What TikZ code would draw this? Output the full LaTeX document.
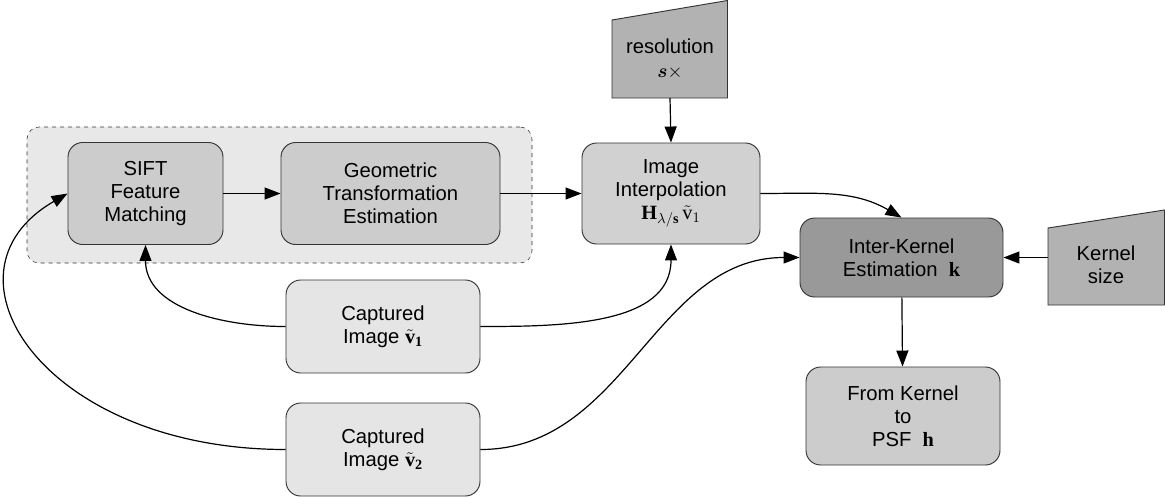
\documentclass[tikz,border=0pt]{standalone}
\usepackage{amsmath}
\usepackage{fontspec}
\setmainfont{Liberation Sans}
\setmathrm{Liberation Serif}
\usetikzlibrary{arrows.meta}

\begin{document}
\begin{tikzpicture}[x=0.75pt, y=0.75pt,
    box/.style={rectangle, draw=black!80, line width=0.7pt, rounded corners=11pt,
        align=center, inner sep=2pt, font=\fontsize{15.2}{17.25}\selectfont},
    inp/.style={align=center, inner sep=2pt, font=\fontsize{15.2}{17.25}\selectfont},
    slant/.style={draw=black!80, fill=black!30, line width=0.7pt},
    arr/.style={-{Triangle[length=12pt, width=9pt]}, line width=0.9pt}
]
\useasboundingbox (0,0) rectangle (1165,-497);

% dashed group around matching and estimation
\node[rectangle, draw=black!80, dashed, fill=black!9, rounded corners=9pt,
    minimum width=378.75pt, minimum height=102pt] (grp) at (279.5,-195) {};

% manual inputs
\draw[slant] (612,-98) -- (727.5,-98) -- (727.5,-0.5) -- (612,-20) -- cycle;
\draw[slant] (1048,-305) -- (1164.5,-305) -- (1164.5,-210) -- (1048,-228) -- cycle;
\coordinate (res-out) at (670,-98);
\coordinate (ks-out) at (1048,-257.5);

\node[inp] (res) at (670,-59) {resolution\\[1pt]$\boldsymbol{s}\times$};
\node[inp] (ksize) at (1106,-265) {Kernel\\size};

\node[box, fill=black!20, minimum width=116.25pt, minimum height=76.5pt] (sift) at (145.5,-193.5) {SIFT\\Feature\\Matching};
\node[box, fill=black!20, minimum width=164.25pt, minimum height=76.5pt] (geom) at (390.5,-193.5) {Geometric\\Transformation\\Estimation};
\node[box, fill=black!18, minimum width=133.5pt, minimum height=75.75pt] (interp) at (671,-193.5) {Image\\Interpolation\\$\mathbf{H}_{\lambda/\mathbf{s}}\,\tilde{\mathrm{v}}_{1}$};
\node[box, fill=black!40, minimum width=152.25pt, minimum height=59.25pt] (ker) at (901.5,-257.5) {Inter-Kernel\\Estimation\ \ $\mathbf{k}$};
\node[box, fill=black!20, minimum width=145.5pt, minimum height=73.5pt] (psf) at (903,-416) {From Kernel\\to\\PSF\ \ $\mathbf{h}$};
\node[box, fill=black!10, minimum width=145.5pt, minimum height=69.75pt] (cap1) at (383,-326.5) {Captured\\Image $\tilde{\mathbf{v}}_{\mathbf{1}}$};
\node[box, fill=black!10, minimum width=145.5pt, minimum height=69.75pt] (cap2) at (383,-449.5) {Captured\\Image $\tilde{\mathbf{v}}_{\mathbf{2}}$};

\draw[arr] (sift) -- (geom);
\draw[arr] (geom) -- (interp);
\draw[arr] (res-out) -- (interp.north);
\draw[arr] (interp.east) to[out=0, in=150] (ker.north);
\draw[arr] (ks-out) -- (ker);
\draw[arr] (ker) -- (psf);
\draw[arr] (cap1.west) to[out=180, in=-90] (sift.south);
\draw[arr] (cap1.east) to[out=0, in=-90] (interp.south);
\draw[arr] (cap2.west) .. controls +(180:240) and +(210:160) .. (sift.west);
\draw[arr] (cap2.east) to[out=0, in=180] (ker.west);
\end{tikzpicture}
\end{document}
